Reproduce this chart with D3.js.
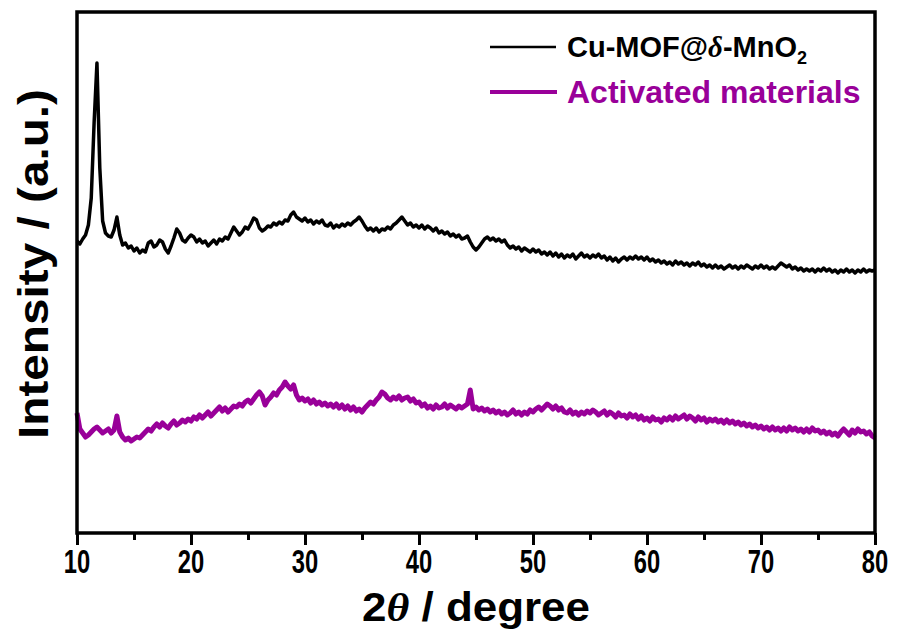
<!DOCTYPE html>
<html>
  <head>
    <script src="https://d3js.org/d3.v7.min.js"></script>
    <style>
      html, body {
        margin: 0;
        padding: 0;
        overflow: hidden;
        background: #fff;
      }
      .xtitle, .ytitle, .legend text, .xlabel {
        font-family: "Liberation Sans", Arial, sans-serif;
        font-weight: bold;
      }
    </style>
  </head>
  <body>
    <div id="chart"></div>
    <script>
      // scan settings (2theta, degrees)
      const scanStart = 10;
      const scanStep = 0.25;

      const seriesNames = ["Cu-MOF@δ-MnO2", "Activated materials"];
      const seriesColors = ["#000000", "#990099"];
      const xTicks = [10, 20, 30, 40, 50, 60, 70, 80];

      // intensity (a.u., offset stacked), one value per step
      const mofIntensity = [
        292, 289, 294, 298, 308, 335, 410, 470, 365, 312, 300, 297, 296, 303, 316, 298,
        288, 290, 285, 287, 282, 285, 280, 283, 281, 290, 292, 286, 288, 293, 291, 284,
        280, 287, 295, 304, 300, 293, 291, 295, 298, 296, 291, 294, 290, 292, 287, 290,
        293, 289, 294, 292, 296, 294, 300, 306, 302, 298, 301, 306, 304, 309, 315, 313,
        305, 302, 304, 307, 306, 310, 308, 311, 309, 313, 312, 318, 321, 316, 314, 312,
        315, 311, 313, 309, 312, 310, 313, 308, 307, 310, 305, 308, 306, 309, 307, 310,
        308, 311, 313, 316, 312, 307, 303, 305, 302, 305, 301, 304, 303, 306, 304, 308,
        310, 313, 316, 312, 308, 310, 306, 308, 305, 308, 304, 307, 305, 302, 305, 300,
        302, 299, 301, 297, 299, 296, 298, 294, 295, 297, 291, 286, 283, 286, 290, 294,
        296, 293, 295, 292, 294, 291, 293, 288, 285, 287, 284, 286, 282, 285, 283, 281,
        284, 281, 283, 279, 281, 278, 281, 277, 280, 276, 279, 275, 278, 276, 279, 274,
        277, 280, 276, 278, 275, 278, 276, 279, 275, 277, 273, 276, 272, 275, 271, 274,
        276, 273, 276, 274, 277, 274, 276, 273, 276, 272, 274, 271, 273, 270, 272, 269,
        271, 268, 272, 269, 271, 268, 270, 267, 270, 268, 271, 267, 269, 266, 268, 265,
        268, 265, 267, 264, 266, 268, 265, 267, 264, 267, 265, 268, 266, 264, 267, 265,
        268, 265, 267, 264, 266, 264, 267, 270, 268, 266, 268, 264, 266, 263, 265, 262,
        264, 262, 264, 261, 264, 262, 265, 262, 264, 261, 263, 260, 263, 261, 264, 261,
        263, 260, 263, 261, 264, 261, 263, 262, 263
      ];

      const activatedIntensity = [
        120, 104, 100, 96, 98, 101, 104, 106, 103, 100, 102, 104, 100, 103, 117, 101,
        96, 93, 95, 92, 94, 96, 95, 98, 101, 104, 102, 106, 109, 106, 110, 107,
        105, 109, 112, 108, 110, 113, 111, 114, 112, 116, 114, 118, 115, 118, 121, 117,
        120, 123, 126, 122, 125, 121, 124, 127, 126, 129, 127, 131, 133, 130, 134, 138,
        141, 137, 128, 133, 136, 140, 138, 143, 146, 151, 147, 144, 148, 138, 133, 135,
        132, 134, 130, 133, 129, 131, 128, 130, 127, 129, 126, 129, 125, 128, 124, 127,
        123, 126, 122, 124, 121, 125, 128, 131, 129, 133, 136, 141, 139, 135, 133, 136,
        134, 137, 133, 135, 136, 132, 134, 130, 131, 127, 129, 125, 127, 124, 128, 125,
        126, 129, 125, 128, 126, 124, 127, 125, 127, 129, 143, 124, 126, 123, 125, 122,
        124, 121, 123, 120, 122, 119, 121, 118, 120, 123, 119, 121, 118, 121, 119, 123,
        121, 124, 126, 123, 126, 129, 127, 124, 127, 123, 125, 121, 120, 123, 119, 121,
        118, 121, 119, 122, 120, 123, 121, 118, 120, 122, 118, 121, 119, 116, 120, 117,
        118, 115, 119, 116, 118, 114, 117, 113, 115, 112, 116, 113, 114, 111, 115, 113,
        116, 113, 117, 114, 116, 118, 114, 117, 115, 112, 116, 113, 115, 111, 114, 112,
        114, 111, 113, 110, 113, 110, 112, 109, 111, 108, 110, 107, 109, 106, 108, 105,
        107, 104, 106, 103, 106, 103, 105, 102, 105, 102, 106, 103, 105, 102, 104, 101,
        104, 101, 105, 102, 103, 100, 102, 99, 101, 98, 100, 97, 101, 104, 101, 98,
        103, 100, 104, 101, 102, 99, 101, 97, 95
      ];

      const width = 897;
      const height = 637;
      const margin = { top: 12, right: 22, bottom: 104, left: 77 };

      const svg = d3.select("#chart")
        .append("svg")
        .attr("width", width)
        .attr("height", height);

      const x = d3.scaleLinear()
        .domain([10, 80])
        .range([margin.left, width - margin.right]);

      const y = d3.scaleLinear()
        .domain([0, 521])
        .range([height - margin.bottom, margin.top]);

      const toPoints = vals => vals.map((v, i) => [scanStart + i * scanStep, v]);

      const line = d3.line()
        .x(d => x(d[0]))
        .y(d => y(d[1]));

      // curves
      svg.append("path")
        .datum(toPoints(activatedIntensity))
        .attr("fill", "none")
        .attr("stroke", seriesColors[1])
        .attr("stroke-width", 5)
        .attr("stroke-linejoin", "round")
        .attr("d", line);

      svg.append("path")
        .datum(toPoints(mofIntensity))
        .attr("fill", "none")
        .attr("stroke", seriesColors[0])
        .attr("stroke-width", 3.5)
        .attr("stroke-linejoin", "round")
        .attr("d", line);

      // frame
      svg.append("rect")
        .attr("x", margin.left)
        .attr("y", margin.top)
        .attr("width", width - margin.left - margin.right)
        .attr("height", height - margin.top - margin.bottom)
        .attr("fill", "none")
        .attr("stroke", "#000")
        .attr("stroke-width", 3.5);

      // x axis, major + minor ticks (labels drawn separately, narrow)
      const xAxisG = svg.append("g")
        .attr("transform", `translate(0,${height - margin.bottom})`);

      xAxisG.append("g")
        .call(d3.axisBottom(x).tickValues(d3.range(15, 80, 10)).tickSize(7).tickFormat(""))
        .call(g => g.select(".domain").remove())
        .call(g => g.selectAll("line").attr("stroke-width", 3));

      xAxisG.append("g")
        .call(d3.axisBottom(x).tickValues(xTicks).tickSize(12).tickFormat(""))
        .call(g => g.select(".domain").remove())
        .call(g => g.selectAll("line").attr("stroke-width", 3));

      svg.append("g")
        .selectAll("text")
        .data(xTicks)
        .join("text")
        .attr("class", "xlabel")
        .attr("transform", d => `translate(${x(d)},573) scale(0.72,1)`)
        .attr("text-anchor", "middle")
        .attr("font-size", 33)
        .text(d => d);

      // axis titles
      const xt = svg.append("text")
        .attr("class", "xtitle")
        .attr("x", x(45))
        .attr("y", 621)
        .attr("text-anchor", "middle")
        .attr("font-size", 40)
        .attr("textLength", 228)
        .attr("lengthAdjust", "spacingAndGlyphs");
      xt.append("tspan").text("2");
      xt.append("tspan").attr("font-style", "italic").attr("font-family", "Liberation Serif, serif").text("θ");
      xt.append("tspan").text(" / degree");

      svg.append("text")
        .attr("class", "ytitle")
        .attr("transform", `translate(48,264) rotate(-90)`)
        .attr("text-anchor", "middle")
        .attr("font-size", 42)
        .attr("textLength", 350)
        .attr("lengthAdjust", "spacingAndGlyphs")
        .text("Intensity / (a.u.)");

      // legend
      const legend = svg.append("g").attr("class", "legend");

      legend.append("line")
        .attr("x1", 490).attr("x2", 556)
        .attr("y1", 47).attr("y2", 47)
        .attr("stroke", seriesColors[0])
        .attr("stroke-width", 2.5);

      const l1 = legend.append("text")
        .attr("x", 567)
        .attr("y", 57)
        .attr("font-size", 29)
        .attr("fill", seriesColors[0]);
      l1.append("tspan").text("Cu-MOF@");
      l1.append("tspan").attr("font-style", "italic").attr("font-family", "Liberation Serif, serif").text("δ");
      l1.append("tspan").text("-MnO");
      l1.append("tspan").attr("font-size", 18).attr("dy", 7).text("2");

      legend.append("line")
        .attr("x1", 490).attr("x2", 557)
        .attr("y1", 92).attr("y2", 92)
        .attr("stroke", seriesColors[1])
        .attr("stroke-width", 4);

      legend.append("text")
        .attr("x", 567)
        .attr("y", 103)
        .attr("font-size", 32)
        .attr("fill", seriesColors[1])
        .text(seriesNames[1]);
    </script>
  </body>
</html>
